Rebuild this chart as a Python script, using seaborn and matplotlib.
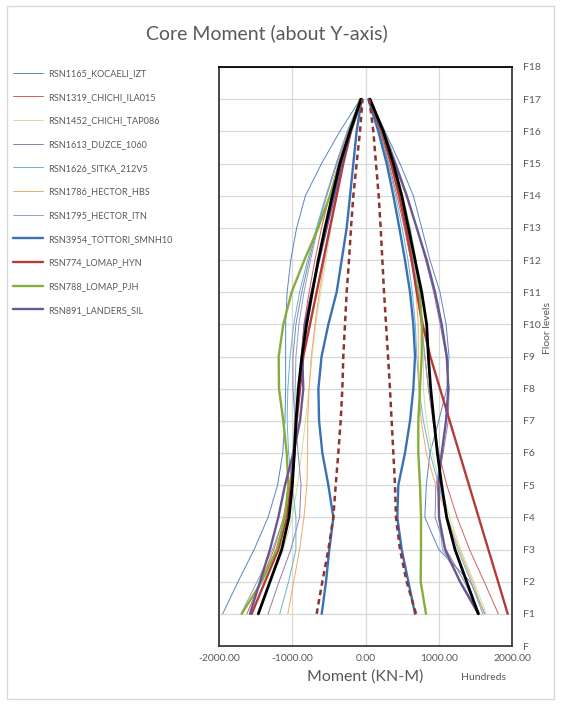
import pandas as pd
import matplotlib.pyplot as plt
import numpy as np
import seaborn as sb
from matplotlib.patches import Rectangle

# floor levels F1..F17, moments in hundreds of kN-m
floors = list(range(1, 18))
floor_labels = ['F'] + [f'F{i}' for i in range(1, 19)]
x_ticks = [-2000, -1000, 0, 1000, 2000]

records = ['RSN1165_KOCAELI_IZT', 'RSN1319_CHICHI_ILA015', 'RSN1452_CHICHI_TAP086',
           'RSN1613_DUZCE_1060', 'RSN1626_SITKA_212V5', 'RSN1786_HECTOR_HBS',
           'RSN1795_HECTOR_ITN', 'RSN3954_TOTTORI_SMNH10', 'RSN774_LOMAP_HYN',
           'RSN788_LOMAP_PJH', 'RSN891_LANDERS_SIL']

# minimum (left) envelopes
rsn1165_min = [-1950, -1740, -1520, -1330, -1200, -1130, -1100, -1090, -1090, -1090, -1070, -1020, -940, -820, -600, -350, -70]
rsn1319_min = [-1620, -1430, -1250, -1120, -1040, -990, -950, -910, -880, -840, -770, -690, -600, -490, -370, -230, -60]
rsn1452_min = [-1480, -1300, -1120, -1000, -930, -870, -820, -770, -730, -680, -610, -540, -470, -390, -300, -190, -50]
rsn1613_min = [-1330, -1180, -1020, -900, -880, -920, -960, -990, -990, -950, -870, -770, -660, -530, -390, -240, -60]
rsn1626_min = [-1170, -1050, -950, -950, -1000, -1050, -1070, -1060, -1030, -980, -900, -790, -670, -540, -400, -250, -60]
rsn1786_min = [-1060, -980, -900, -840, -800, -790, -790, -770, -740, -690, -630, -560, -480, -400, -310, -200, -50]
rsn1795_min = [-1700, -1480, -1270, -1110, -1030, -990, -970, -960, -950, -910, -840, -750, -650, -530, -400, -250, -70]
rsn3954_min = [-598, -539, -494, -439, -507, -589, -634, -643, -600, -507, -394, -325, -257, -211, -166, -121, -52]
rsn774_min = [-1554, -1372, -1190, -1076, -1017, -971, -940, -894, -849, -758, -667, -576, -486, -394, -303, -198, -52]
rsn788_min = [-1690, -1417, -1212, -1099, -1053, -1076, -1122, -1181, -1185, -1122, -1008, -835, -645, -486, -350, -211, -75]
rsn891_min = [-1577, -1440, -1304, -1190, -1099, -985, -894, -849, -863, -826, -735, -635, -531, -426, -326, -211, -61]

# maximum (right) envelopes
rsn1165_max = [1630, 1430, 1000, 810, 830, 880, 1000, 1110, 1140, 1100, 1017, 880, 767, 653, 470, 266, 60]
rsn1319_max = [1813, 1620, 1420, 1250, 1110, 1000, 920, 860, 810, 760, 700, 620, 530, 430, 320, 200, 50]
rsn1452_max = [1650, 1480, 1300, 1150, 1020, 910, 830, 790, 790, 780, 730, 650, 560, 460, 350, 220, 50]
rsn1613_max = [1560, 1350, 1100, 950, 960, 1060, 1130, 1140, 1100, 1020, 930, 820, 700, 570, 420, 260, 60]
rsn1626_max = [1600, 1440, 1260, 1120, 1000, 880, 790, 730, 700, 680, 640, 580, 500, 410, 310, 190, 40]
rsn1786_max = [1620, 1460, 1280, 1120, 960, 830, 760, 730, 720, 720, 690, 630, 550, 450, 340, 210, 50]
rsn1795_max = [1560, 1300, 1050, 1000, 1020, 1000, 930, 860, 810, 770, 720, 650, 560, 460, 350, 220, 50]
rsn3954_max = [676, 585, 494, 434, 448, 539, 608, 653, 676, 653, 608, 539, 462, 380, 289, 175, 39]
rsn774_max = [1941, 1810, 1677, 1545, 1413, 1281, 1149, 1017, 885, 780, 700, 630, 550, 460, 350, 220, 50]
rsn788_max = [826, 753, 758, 758, 744, 721, 721, 744, 767, 770, 740, 680, 600, 500, 380, 240, 60]
rsn891_max = [1540, 1290, 1086, 1004, 995, 1040, 1099, 1131, 1110, 1040, 949, 835, 699, 562, 403, 243, 61]

# average envelope and lower dashed envelope
mean_min = [-1463, -1304, -1144, -1044, -999, -971, -949, -917, -868, -804, -726, -645, -553, -453, -350, -211, -61]
mean_max = [1540, 1381, 1222, 1108, 1040, 981, 935, 890, 858, 835, 767, 676, 585, 494, 380, 243, 61]
dash_min = [-667, -589, -507, -439, -407, -371, -339, -316, -303, -280, -257, -225, -198, -166, -121, -75, -40]
dash_max = [690, 562, 471, 416, 403, 380, 357, 334, 308, 280, 253, 230, 207, 180, 143, 107, 52]

mins = [rsn1165_min, rsn1319_min, rsn1452_min, rsn1613_min, rsn1626_min, rsn1786_min,
        rsn1795_min, rsn3954_min, rsn774_min, rsn788_min, rsn891_min]
maxs = [rsn1165_max, rsn1319_max, rsn1452_max, rsn1613_max, rsn1626_max, rsn1786_max,
        rsn1795_max, rsn3954_max, rsn774_max, rsn788_max, rsn891_max]

colors = ['#5a84c0', '#d0605c', '#cfdca8', '#8c80aa', '#63b4d0', '#f2a866',
          '#8ba2c4', '#3a70b4', '#b53a3a', '#86ad3c', '#6a5690']
widths = [0.7, 0.7, 0.7, 0.7, 0.7, 0.7, 0.7, 1.7, 1.7, 1.7, 1.7]

rows = []
for rec, lo, hi in zip(records, mins, maxs):
    for f, v in zip(floors, lo):
        rows.append((rec, 'min', f, v))
    for f, v in zip(floors, hi):
        rows.append((rec, 'max', f, v))
df = pd.DataFrame(rows, columns=['record', 'side', 'floor', 'moment'])

sb.set_style('white')
plt.rcParams['font.family'] = ['Lato', 'DejaVu Sans']
grey = '#595959'

fig = plt.figure(figsize=(5.61, 7.04), dpi=100)
ax = fig.add_axes([219 / 561, 1 - 646 / 704, 293 / 561, 579 / 704])

handles = []
for rec, col, lw in zip(records, colors, widths):
    sub = df[df.record == rec]
    for side in ['min', 'max']:
        part = sub[sub.side == side]
        sb.lineplot(x=part.moment, y=part.floor, ax=ax, sort=False, estimator=None,
                    color=col, linewidth=lw, legend=False, zorder=3 if lw > 1 else 2)
    handles.append(plt.Line2D([], [], color=col, linewidth=lw, label=rec))

for side_vals in [mean_min, mean_max]:
    sb.lineplot(x=side_vals, y=floors, ax=ax, sort=False, estimator=None,
                color='black', linewidth=2.0, zorder=4)
for side_vals in [dash_min, dash_max]:
    sb.lineplot(x=side_vals, y=floors, ax=ax, sort=False, estimator=None,
                color='#8b3434', linewidth=1.8, linestyle=(0, (2.2, 1.6)), zorder=5)

ax.set_xlim(-2000, 2000)
ax.set_ylim(0, 18)
ax.set_xticks(x_ticks)
ax.set_xticklabels([f'{v:.2f}' for v in x_ticks], fontsize=7.5, color=grey)
ax.set_yticks(range(19))
ax.set_yticklabels(floor_labels, fontsize=7.5, color=grey)
ax.yaxis.tick_right()
ax.yaxis.set_label_position('right')
ax.tick_params(length=0, pad=8)
ax.tick_params(axis='x', pad=6)
ax.grid(True, color='#d9d9d9', linewidth=0.9)
ax.set_axisbelow(True)
for s in ax.spines.values():
    s.set_color('#3a3a3a')
    s.set_linewidth(1.3)
ax.spines['top'].set_color('black')

ax.set_xlabel('Moment (KN-M)', fontsize=11.5, color=grey, labelpad=4)
ax.set_ylabel('Floor levels', fontsize=7.5, color=grey)
ax.yaxis.set_label_coords(1 + 31 / 293, 0.55)

fig.text(267 / 561, 1 - 33 / 704, 'Core Moment (about Y-axis)', fontsize=14,
         color=grey, ha='center', va='center')
fig.text(484 / 561, 1 - 678 / 704, 'Hundreds', fontsize=7.5, color=grey,
         ha='center', va='center')

fig.legend(handles=handles, loc='upper left', bbox_to_anchor=(13 / 561, 1 - 69 / 704),
           frameon=False, fontsize=6.6, handlelength=3.3, handletextpad=0.55,
           labelspacing=1.6, labelcolor=grey, borderaxespad=0, borderpad=0)

fig.add_artist(Rectangle((7 / 561, 5 / 704), 547 / 561, 693 / 704, transform=fig.transFigure,
                         fill=False, edgecolor='#d9d9d9', linewidth=1))

plt.savefig('out.png', dpi=100)
